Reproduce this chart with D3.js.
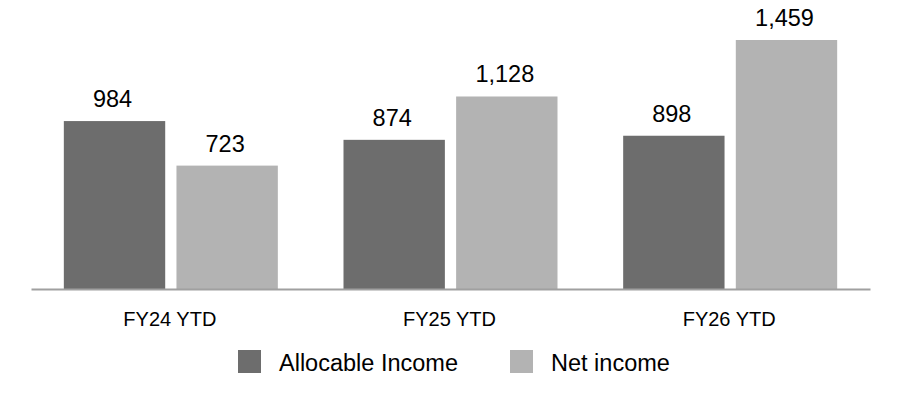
<!DOCTYPE html>
<html>
<head>
<meta charset="utf-8">
<script src="https://cdn.jsdelivr.net/npm/d3@7"></script>
<style>
  body { margin: 0; background: #fff; }
  text { font-family: "Liberation Sans", Arial, sans-serif; fill: #000; }
</style>
</head>
<body>
<svg id="chart"></svg>
<script>
var categories = ["FY24 YTD", "FY25 YTD", "FY26 YTD"];
var seriesNames = ["Allocable Income", "Net income"];
var allocableIncome = [984, 874, 898];
var netIncome = [723, 1128, 1459];
var seriesColors = ["#6d6d6d", "#b3b3b3"];

var width = 900, height = 400;
var baseline = 289, topY = 40;

var svg = d3.select("#chart").attr("width", width).attr("height", height);

var rows = categories.map(function(c, i) {
  return { cat: c, values: [allocableIncome[i], netIncome[i]] };
});

var x0 = d3.scaleBand().domain(categories).range([31, 870]).padding(0);
var groupWidth = 214;
var x1 = d3.scaleBand().domain(d3.range(seriesNames.length)).range([0, groupWidth]).paddingInner(0.1);

var y = d3.scaleLinear()
  .domain([0, d3.max(allocableIncome.concat(netIncome))])
  .range([baseline, topY]);

var fmt = d3.format(",");

var groups = svg.append("g").selectAll("g")
  .data(rows)
  .enter().append("g")
  .attr("transform", function(d) {
    return "translate(" + (x0(d.cat) + (x0.bandwidth() - groupWidth) / 2) + ",0)";
  });

groups.selectAll("rect")
  .data(function(d) { return d.values; })
  .enter().append("rect")
  .attr("x", function(d, i) { return x1(i); })
  .attr("y", function(d) { return y(d); })
  .attr("width", x1.bandwidth())
  .attr("height", function(d) { return baseline - y(d); })
  .attr("fill", function(d, i) { return seriesColors[i]; });

groups.selectAll("text")
  .data(function(d) { return d.values; })
  .enter().append("text")
  .attr("x", function(d, i) { return x1(i) + x1.bandwidth() / 2 - 2; })
  .attr("y", function(d) { return y(d) - 14; })
  .attr("text-anchor", "middle")
  .attr("font-size", 23.5)
  .text(function(d) { return fmt(d); });

// baseline axis
var xAxis = svg.append("g")
  .attr("transform", "translate(0," + baseline + ")")
  .call(d3.axisBottom(x0).tickSize(0).tickPadding(0));
xAxis.select(".domain").attr("stroke", "#a0a0a0").attr("stroke-width", 2);
xAxis.selectAll(".tick text")
  .attr("y", 37)
  .attr("dy", null)
  .attr("dx", -1)
  .attr("font-size", 20)
  .attr("font-family", "Liberation Sans, Arial, sans-serif")
  .attr("fill", "#000");

// legend
var legendX = [238, 510];
var legend = svg.append("g").selectAll("g")
  .data(seriesNames)
  .enter().append("g")
  .attr("transform", function(d, i) { return "translate(" + legendX[i] + ",350)"; });

legend.append("rect")
  .attr("width", 23)
  .attr("height", 23)
  .attr("fill", function(d, i) { return seriesColors[i]; });

legend.append("text")
  .attr("x", 41)
  .attr("y", 21)
  .attr("font-size", 23.5)
  .text(function(d) { return d; });
</script>
</body>
</html>
